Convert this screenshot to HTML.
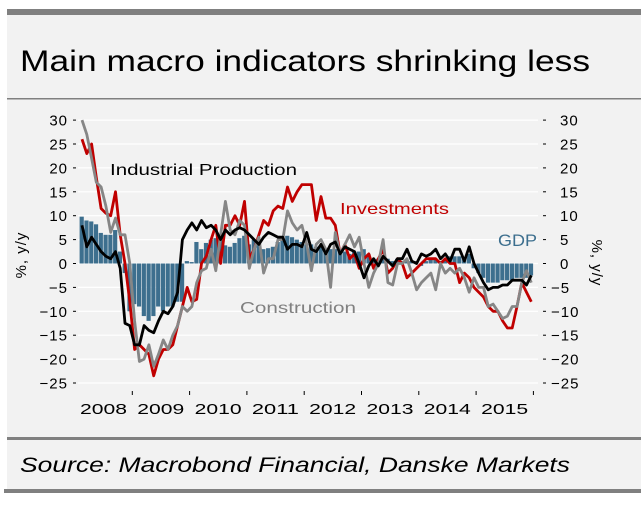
<!DOCTYPE html>
<html><head><meta charset="utf-8"><style>
html,body{margin:0;padding:0;background:#fff;}
svg{display:block;font-family:"Liberation Sans",sans-serif;}
</style></head><body>
<svg id="chart" width="641" height="505" viewBox="0 0 641 505">
<rect x="7" y="9" width="634" height="484" fill="#f2f2f2"/>
<rect x="7" y="9" width="634" height="6" fill="#808080"/>
<text x="20" y="71" font-size="30" fill="#000" textLength="570" lengthAdjust="spacingAndGlyphs">Main macro indicators shrinking less</text>
<rect x="7" y="98" width="634" height="1.5" fill="#808080"/>
<rect x="7" y="437" width="634" height="3" fill="#808080"/>
<text x="20" y="472" font-size="21" font-style="italic" fill="#000" textLength="550" lengthAdjust="spacingAndGlyphs">Source: Macrobond Financial, Danske Markets</text>
<rect x="4" y="489" width="637" height="4" fill="#808080"/>
<g id="grid"></g>
<g id="bars"></g>
<g id="lines"></g>
<g id="axes"></g>
<text x="110" y="175" font-size="16" fill="#000" textLength="187" lengthAdjust="spacingAndGlyphs">Industrial Production</text>
<text x="340" y="214" font-size="16" fill="#c00000" textLength="109" lengthAdjust="spacingAndGlyphs">Investments</text>
<text x="498" y="246" font-size="17" fill="#3d6f8e" textLength="39" lengthAdjust="spacingAndGlyphs">GDP</text>
<text x="240" y="313" font-size="16" fill="#808080" textLength="116" lengthAdjust="spacingAndGlyphs">Construction</text>
<text transform="translate(26,255) rotate(-90)" text-anchor="middle" font-size="15" letter-spacing="1" fill="#000">%, y/y</text>
<text transform="translate(592,263) rotate(90)" text-anchor="middle" font-size="15" letter-spacing="1" fill="#000">%, y/y</text>
</svg>
<script>
const years=["2008","2009","2010","2011","2012","2013","2014","2015"];
const yTicks=[30,25,20,15,10,5,0,-5,-10,-15,-20,-25];
const investments=[26,23,25,18,11.5,10.5,10,15,6,0,-8,-18,-17,-18,-19,-23.5,-20,-18,-18,-17,-13,-9,-5,-8,-7.5,0,1.5,5,8,0,8,8,10,8,13,1,3,6,9,8,11,12,11.5,16,13,15,16.5,16.5,16.5,9,14,9.5,9.5,8,2,4,1,2,-1,1,2,-1,1,3,-2,-1,1,0,-3,-2,-1,0,1,1,1,0,1,0,0,-4,-2,-3,-5,-6,-7,-9,-10,-10,-12,-13.5,-13.5,-9,-4,-6,-8];
const construction=[30,27,22,17,16,12,6.5,9.5,6,6,0,-12,-20.5,-20,-17,-21.5,-19,-16,-18,-15,-13,-9,-10,-9,-4,-1.5,-1,3,-1.5,6,13,7,6,9,8,-1,3,5.5,-2,1,1,5,5,11,8.5,7,8,4,-1.5,4,5,3,-5,6.5,2,4,6,3.5,5.5,0,-5,-2,0,5,-4,-4.5,0,0,1,-2,-5.5,-4,-3,-2,-5.5,0,-2,-1,-2,-1,-3,-6,-3,-5,-5,-9,-8.5,-10,-11.5,-11,-9,-9,-4,-1.5,-4];
const industrial=[8,3.5,5.5,4,2.5,1.5,1,2.5,-1,-12.5,-13,-17,-17,-13,-14,-14.5,-12,-10,-10.5,-9,-6,5,7,8.5,7,9,7.5,8,7,5,7,6,7,7.5,7,6,5,4,5.5,6.5,6,5.5,5.5,3,4,4,3.5,6.5,3,2.5,4,2,4,4.5,2,3.5,3,2.5,0,-3,-0.5,1,-0.5,1.5,0.5,-0.5,1,1,3,0.5,0,2,1.5,2,3,1,2,0.5,3,3,0.5,3.5,0,-2,-4,-5.5,-5,-5,-4.5,-4.5,-3.5,-3.5,-3.5,-4.5,-2.5];
const gdp=[9.8,9,8.8,8.2,6.4,6,6,7,2.5,-2,-10,-8.5,-9,-11,-12,-11,-9,-10,-9,-9,-8,-8,0.5,0.3,4.5,3,4.3,5,5.3,4.8,3.8,3.5,4.3,5.3,5.8,4,5,4,3,3.2,3.5,4.5,5,5.8,5.5,5,4.5,4,4,3.5,3.5,3,3,3,3,2.5,2,2.5,2.5,3,2,1,1,1,1,0.5,1,0.5,0.5,0.5,0.5,-0.5,0.5,1,1,0.5,1,1.5,1.5,1.5,1.2,2,-1,-2,-3,-4,-4,-4,-3.5,-3.5,-3.5,-3,-3,-3,-2.5];

const NS="http://www.w3.org/2000/svg";
const Y0=263.5, PPU=4.78, X0=82, STEP=4.78;
function y(v){return Y0-v*PPU;}
function x(m){return X0+m*STEP;}
function mk(tag,attrs,parent){const e=document.createElementNS(NS,tag);for(const k in attrs)e.setAttribute(k,attrs[k]);parent.appendChild(e);return e;}
const grid=document.getElementById('grid'),axes=document.getElementById('axes'),bars=document.getElementById('bars'),lines=document.getElementById('lines');

yTicks.forEach(t=>{
  const g=mk('line',{x1:78,x2:538,y1:y(t),y2:y(t),stroke:'#ffffff','stroke-width':1.2},grid);
  
  
  const lt=mk('text',{x:68,y:y(t)+5.5,'text-anchor':'end','font-size':15,'letter-spacing':1,fill:'#000'},axes);
  lt.textContent=(t<0?'\u2212'+(-t):String(t));
  
  
  const ld=mk('line',{x1:73,x2:76,y1:y(t),y2:y(t),stroke:'#000'},axes);
  
  
  const rd=mk('line',{x1:543,x2:546,y1:y(t),y2:y(t),stroke:'#000'},axes);
  
  
  const rt=mk('text',{x:t<0?551:560,y:y(t)+5.5,'font-size':15,'letter-spacing':1,fill:'#000'},axes);
  rt.textContent=(t<0?'\u2212'+(-t):String(t));
  
  
});
years.forEach((yr,i)=>{
  const xs=75+i*57.3;
  const tk=mk('line',{x1:xs+57.3,x2:xs+57.3,y1:391,y2:395,stroke:'#000'},axes);
  
  
  const tl=mk('text',{x:xs+5,y:414,'font-size':15,fill:'#000',textLength:47,lengthAdjust:'spacingAndGlyphs'},axes);
  tl.textContent=yr;
  
  
});
gdp.forEach((v,m)=>{
  const top=Math.min(y(v),y(0)),h=Math.abs(y(v)-y(0));
  const b=mk('rect',{x:x(m)-STEP/2,y:top,width:STEP-0.6,height:h,fill:'#3d6f8e'},bars);
  
  
});
function line(arr,color,name){
  const p=mk('polyline',{points:arr.map((v,m)=>x(m).toFixed(1)+','+y(v).toFixed(1)).join(' '),fill:'none',stroke:color,'stroke-width':2.8,'stroke-linejoin':'round'},lines);
  
  
}
line(investments,'#c00000','investments-line');
line(construction,'#868686','construction-line');
line(industrial,'#000000','industrial-production-line');
</script>
</body></html>
